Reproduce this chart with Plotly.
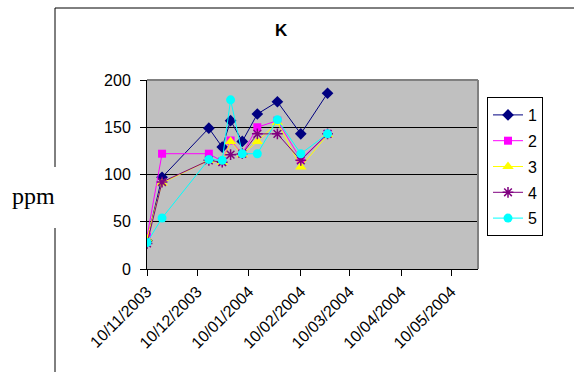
import plotly.graph_objects as go

dates = ["2003-11-10", "2003-11-19", "2003-12-17", "2003-12-25", "2003-12-30",
         "2004-01-06", "2004-01-15", "2004-01-27", "2004-02-10", "2004-02-26"]
s1 = [30, 97, 149, 129, 157, 135, 164, 177, 143, 186]
s2 = [34, 122, 122, 114, 136, 122, 150, 157, 116, 143]
s3 = [32, 91, 115, 113, 135, 121, 135, 155, 108, 142]
s4 = [27, 92, 115, 113, 121, 122, 143, 143, 115, 143]
s5 = [28, 54, 116, 115, 179, 122, 122, 158, 122, 143]
names = ["1", "2", "3", "4", "5"]

tick_vals = ["2003-11-10", "2003-12-10", "2004-01-10", "2004-02-10",
             "2004-03-10", "2004-04-10", "2004-05-10"]
tick_text = ["10/11/2003", "10/12/2003", "10/01/2004", "10/02/2004",
             "10/03/2004", "10/04/2004", "10/05/2004"]
x_range = ["2003-11-10", "2004-05-26"]

styles = [
    dict(color="#000080", symbol="diamond", size=9),
    dict(color="#FF00FF", symbol="square", size=8),
    dict(color="#FFFF00", symbol="triangle-up", size=10),
    dict(color="#800080", symbol="asterisk-open", size=9),
    dict(color="#00FFFF", symbol="circle", size=9),
]

fig = go.Figure()
for name, ys, st in zip(names, [s1, s2, s3, s4, s5], styles):
    marker = dict(color=st["color"], symbol=st["symbol"], size=st["size"])
    if st["symbol"] == "asterisk-open":
        marker["line"] = dict(color=st["color"], width=1.5)
    else:
        marker["line"] = dict(width=0)
    fig.add_trace(go.Scatter(x=dates, y=ys, name=name, mode="lines+markers",
                             line=dict(color=st["color"], width=1),
                             marker=marker, legendgroup=name))

L, R, T, B = 147, 96, 80, 103
W, H = 574, 372
pw, ph = W - L - R, H - T - B

def px(x):
    return (x - L) / pw

def py(y):
    return (H - B - y) / ph

font = "Liberation Sans, Arial, sans-serif"
fig.update_layout(
    width=W, height=H, autosize=False,
    margin=dict(l=L, r=R, t=T, b=B, pad=0),
    paper_bgcolor="white", plot_bgcolor="#C0C0C0",
    font=dict(family=font, size=16, color="black"),
    showlegend=True,
    legend=dict(x=px(487), y=py(97), xanchor="left", yanchor="top",
                bgcolor="white", bordercolor="black", borderwidth=1,
                font=dict(size=16), traceorder="grouped", tracegroupgap=2,
                itemwidth=30),
    xaxis=dict(type="date", range=x_range, tickvals=tick_vals, ticktext=tick_text,
               tickangle=-45, ticks="outside", ticklen=6, tickcolor="black",
               showgrid=False, showline=True, linecolor="black", linewidth=1,
               zeroline=False, tickfont=dict(size=16)),
    yaxis=dict(range=[0, 200], dtick=50, ticks="outside", ticklen=6,
               tickcolor="black", showgrid=True, gridcolor="black", gridwidth=1,
               showline=True, linecolor="black", linewidth=1, zeroline=False,
               ticklabelstandoff=6, tickfont=dict(size=16)),
    annotations=[
        dict(text="<b>K</b>", x=px(281), y=py(30.5), xref="paper", yref="paper",
             showarrow=False, font=dict(size=17, family=font),
             xanchor="center", yanchor="middle"),
        dict(text="ppm", x=px(33), y=py(196), xref="paper", yref="paper",
             showarrow=False,
             font=dict(size=24, family="Liberation Serif, Times New Roman, serif"),
             xanchor="center", yanchor="middle"),
    ],
    shapes=[
        # plot-area top and right border
        dict(type="line", xref="paper", yref="paper", x0=0, x1=1, y0=1, y1=1,
             line=dict(color="#808080", width=2)),
        dict(type="line", xref="paper", yref="paper", x0=1, x1=1, y0=0, y1=1,
             line=dict(color="#808080", width=2)),
        # outer chart frame
        dict(type="line", xref="paper", yref="paper", x0=px(55), x1=px(600),
             y0=py(8), y1=py(8), line=dict(color="black", width=1)),
        dict(type="line", xref="paper", yref="paper", x0=px(55), x1=px(55),
             y0=py(8), y1=py(167), line=dict(color="black", width=1)),
        dict(type="line", xref="paper", yref="paper", x0=px(55), x1=px(55),
             y0=py(228), y1=py(400), line=dict(color="black", width=1)),
    ],
)

fig.write_html("out.html")
